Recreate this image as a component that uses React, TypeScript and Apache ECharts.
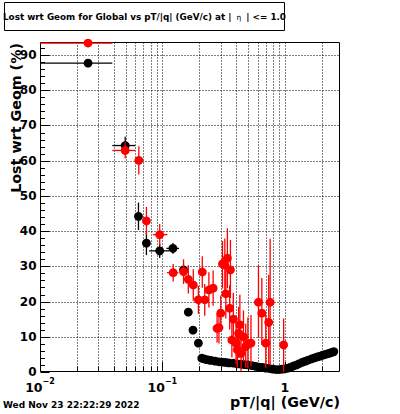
import React, { useEffect, useRef } from 'react';
import * as echarts from 'echarts';

const FONT = '"DejaVu Sans", sans-serif';

// rows: [pT, value, errLow, errHigh, binLow?, binHigh?]
const blackPoints: number[][] = [
  [0.0247, 87.7, 0.4, 0.4, 0.01, 0.039],
  [0.0497, 64.3, 2.5, 2.5, 0.039, 0.06],
  [0.0638, 44.2, 3.9, 3.9],
  [0.0741, 36.6, 3.4, 3.4],
  [0.0951, 34.4, 2.0, 2.0, 0.078, 0.114],
  [0.122, 35.1, 1.5, 1.5, 0.108, 0.137],
  [0.149, 29.0, 1.5, 1.5],
  [0.163, 17.0, 0.9, 0.9],
  [0.178, 11.9, 0.7, 0.7],
  [0.197, 8.2, 0.5, 0.5],
  [0.21, 3.9, 0.4, 0.4],
  [0.22, 3.7, 0.4, 0.4],
  [0.23, 3.5, 0.4, 0.4],
  [0.24, 3.4, 0.4, 0.4],
  [0.25, 3.3, 0.4, 0.4],
  [0.27, 3.1, 0.4, 0.4],
  [0.29, 2.9, 0.4, 0.4],
  [0.31, 2.8, 0.4, 0.4],
  [0.33, 2.7, 0.4, 0.4],
  [0.35, 2.6, 0.4, 0.4],
  [0.38, 2.5, 0.4, 0.4],
  [0.41, 2.3, 0.4, 0.4],
  [0.44, 2.2, 0.4, 0.4],
  [0.47, 2.1, 0.4, 0.4],
  [0.5, 2.0, 0.4, 0.4],
  [0.54, 1.8, 0.4, 0.4],
  [0.58, 1.6, 0.4, 0.4],
  [0.62, 1.4, 0.4, 0.4],
  [0.66, 1.3, 0.4, 0.4],
  [0.7, 1.1, 0.4, 0.4],
  [0.75, 1.0, 0.4, 0.4],
  [0.8, 0.8, 0.4, 0.4],
  [0.85, 0.7, 0.4, 0.4],
  [0.9, 0.7, 0.4, 0.4],
  [0.95, 0.8, 0.4, 0.4],
  [1.0, 0.9, 0.4, 0.4],
  [1.06, 1.1, 0.4, 0.4],
  [1.12, 1.4, 0.4, 0.4],
  [1.18, 1.7, 0.4, 0.4],
  [1.25, 2.0, 0.4, 0.4],
  [1.32, 2.4, 0.4, 0.4],
  [1.4, 2.8, 0.4, 0.4],
  [1.48, 3.1, 0.4, 0.4],
  [1.56, 3.4, 0.4, 0.4],
  [1.65, 3.7, 0.4, 0.4],
  [1.75, 4.0, 0.4, 0.4],
  [1.85, 4.3, 0.4, 0.4],
  [1.95, 4.5, 0.4, 0.4],
  [2.05, 4.8, 0.4, 0.4],
  [2.15, 5.0, 0.4, 0.4],
  [2.25, 5.2, 0.4, 0.4],
  [2.35, 5.4, 0.4, 0.4],
  [2.45, 5.6, 0.4, 0.4],
  [2.52, 5.8, 0.4, 0.4],
];

const redPoints: number[][] = [
  [0.0247, 93.4, 0.4, 0.4, 0.01, 0.039],
  [0.0497, 62.9, 2.3, 2.3, 0.039, 0.06],
  [0.0642, 60.1, 4.0, 4.0],
  [0.0741, 42.9, 4.0, 4.0],
  [0.0951, 39.0, 3.0, 3.0, 0.0836, 0.11],
  [0.1226, 28.2, 2.5, 2.5, 0.109, 0.135],
  [0.149, 28.5, 3.5, 3.5],
  [0.163, 26.3, 4.0, 4.0],
  [0.179, 24.7, 4.5, 4.5],
  [0.197, 20.5, 4.0, 4.0],
  [0.212, 28.4, 4.5, 4.5],
  [0.222, 20.5, 4.5, 4.5],
  [0.24, 23.3, 5.0, 5.0],
  [0.26, 23.8, 5.0, 5.0],
  [0.28, 12.4, 4.0, 4.0],
  [0.29, 12.6, 4.5, 4.5],
  [0.3, 16.7, 5.0, 5.0],
  [0.31, 30.7, 7.0, 6.5],
  [0.324, 30.4, 8.0, 7.5],
  [0.34, 32.3, 8.5, 8.5],
  [0.36, 29.0, 8.0, 8.5],
  [0.33, 22.2, 7.0, 7.0],
  [0.355, 18.1, 6.0, 6.5],
  [0.38, 15.0, 7.0, 7.5],
  [0.37, 9.1, 5.0, 5.5],
  [0.4, 8.2, 6.0, 6.5],
  [0.42, 11.0, 7.0, 7.5],
  [0.43, 13.4, 8.0, 8.5],
  [0.41, 6.3, 5.0, 5.5],
  [0.44, 5.3, 5.0, 6.0],
  [0.46, 10.0, 7.0, 7.5],
  [0.48, 7.2, 6.0, 6.5],
  [0.5, 8.0, 7.0, 7.5],
  [0.53, 8.2, 6.5, 8.0],
  [0.61, 19.8, 10.0, 10.5],
  [0.65, 16.7, 9.0, 10.0],
  [0.7, 8.2, 7.0, 8.0],
  [0.74, 14.1, 12.0, 13.5],
  [0.76, 19.8, 18.0, 18.0],
  [0.98, 7.7, 7.7, 7.5],
];

const X_MIN = 0.01;
const X_MAX = 2.83;
const Y_MIN = 0;
const Y_MAX = 93.7;

const xMajorTicks = [0.01, 0.1, 1];
const xMinorTicks = [
  0.02, 0.03, 0.04, 0.05, 0.06, 0.07, 0.08, 0.09,
  0.2, 0.3, 0.4, 0.5, 0.6, 0.7, 0.8, 0.9,
  2,
];
const yMajorTicks = [0, 10, 20, 30, 40, 50, 60, 70, 80, 90];
const yMinorTicks = [
  2, 4, 6, 8, 12, 14, 16, 18, 22, 24, 26, 28, 32, 34, 36, 38, 42, 44, 46, 48,
  52, 54, 56, 58, 62, 64, 66, 68, 72, 74, 76, 78, 82, 84, 86, 88, 92,
];

const TITLE = 'Lost wrt Geom for Global vs pT/|q| (GeV/c) at |';
const TITLE_END = '| <= 1.0';
const Y_TITLE = 'Lost wrt Geom (%)';
const X_TITLE = 'pT/|q| (GeV/c)';
const DATE_TEXT = 'Wed Nov 23 22:22:29 2022';

const fillRows = (rows: number[][]) =>
  rows.map((r) => (r.length >= 6 ? r : [r[0], r[1], r[2], r[3], r[0], r[0]]));

const snap = (v: number) => Math.round(v) + 0.5;

function renderAxes(params: any, api: any) {
  const cs = params.coordSys;
  const left = snap(cs.x);
  const top = snap(cs.y);
  const right = snap(cs.x + cs.width) - 1;
  const bottom = snap(cs.y + cs.height) - 1;
  const children: any[] = [];
  const dotted = { stroke: '#000', lineWidth: 1, lineDash: [1, 2], fill: 'none' };
  const solid = { stroke: '#000', lineWidth: 1, fill: 'none' };
  const allX = [...xMajorTicks, ...xMinorTicks];
  for (const v of allX) {
    const px = snap(api.coord([v, 1])[0]);
    if (px > left + 1 && px < right - 1) {
      children.push({ type: 'line', shape: { x1: px, y1: top, x2: px, y2: bottom }, style: dotted });
    }
    const len = xMajorTicks.indexOf(v) >= 0 ? 9.5 : 5;
    children.push({ type: 'line', shape: { x1: px, y1: bottom, x2: px, y2: bottom - len }, style: solid });
  }
  for (const v of yMajorTicks) {
    const py = snap(api.coord([1, v])[1]);
    if (py > top + 1 && py < bottom - 1) {
      children.push({ type: 'line', shape: { x1: left, y1: py, x2: right, y2: py }, style: dotted });
    }
    children.push({ type: 'line', shape: { x1: left, y1: py, x2: left + 9, y2: py }, style: solid });
  }
  for (const v of yMinorTicks) {
    const py = snap(api.coord([1, v])[1]);
    children.push({ type: 'line', shape: { x1: left, y1: py, x2: left + 4.5, y2: py }, style: solid });
  }
  children.push({
    type: 'rect',
    shape: { x: left, y: top, width: right - left, height: bottom - top },
    style: { stroke: '#000', lineWidth: 1, fill: 'none' },
  });
  return { type: 'group', children };
}

function makePointRenderer(color: string) {
  return (params: any, api: any) => {
    const x = api.value(0);
    const y = api.value(1);
    const eLo = api.value(2);
    const eHi = api.value(3);
    const xLo = api.value(4);
    const xHi = api.value(5);
    const c = api.coord([x, y]);
    const yTop = Math.min(y + eHi, Y_MAX);
    const yBot = Math.max(y - eLo, Y_MIN);
    const pTop = api.coord([x, yTop]);
    const pBot = api.coord([x, yBot]);
    const pL = api.coord([Math.max(xLo, X_MIN), y]);
    const pR = api.coord([xHi, y]);
    const lineStyle = { stroke: color, lineWidth: 1.3, fill: 'none' };
    const children: any[] = [
      { type: 'line', shape: { x1: c[0], y1: pTop[1], x2: c[0], y2: pBot[1] }, style: lineStyle },
    ];
    if (xHi > xLo) {
      children.push({ type: 'line', shape: { x1: pL[0], y1: c[1], x2: pR[0], y2: c[1] }, style: lineStyle });
    }
    children.push({ type: 'circle', shape: { cx: c[0], cy: c[1], r: 4.4 }, style: { fill: color, stroke: 'none' } });
    return { type: 'group', children };
  };
}

export default function App() {
  const ref = useRef<HTMLDivElement>(null);
  useEffect(() => {
    if (!ref.current) return;
    const chart = echarts.init(ref.current, null, { renderer: 'svg' });
    const option: any = {
      animation: false,
      backgroundColor: '#fff',
      grid: { left: 40, top: 42, width: 300, height: 330, show: false },
      xAxis: {
        type: 'log',
        logBase: 10,
        min: X_MIN,
        max: X_MAX,
        axisLine: { show: false },
        axisTick: { show: false },
        splitLine: { show: false },
        minorTick: { show: false },
        axisLabel: {
          show: true,
          margin: 5,
          showMinLabel: true,
          showMaxLabel: false,
          color: '#000',
          formatter: (v: number) => {
            const l = Math.log10(v);
            const e = Math.round(l);
            if (Math.abs(l - e) > 1e-6) return '';
            if (e === 0) return '{b|1}';
            return '{b|10}{s|\u2212' + Math.abs(e) + '}';
          },
          rich: {
            b: { fontSize: 12.5, fontWeight: 'bold', fontFamily: FONT, color: '#000', lineHeight: 20 },
            s: { fontSize: 8, fontWeight: 'bold', fontFamily: FONT, color: '#000', lineHeight: 8, verticalAlign: 'top' },
          },
        },
      },
      yAxis: {
        type: 'value',
        min: Y_MIN,
        max: Y_MAX,
        interval: 10,
        axisLine: { show: false },
        axisTick: { show: false },
        splitLine: { show: false },
        axisLabel: {
          margin: 3.5,
          showMaxLabel: false,
          color: '#000',
          fontSize: 12,
          fontWeight: 'bold',
          fontFamily: FONT,
        },
      },
      graphic: [
        {
          type: 'rect',
          shape: { x: 4.5, y: 2.5, width: 280, height: 28 },
          style: { fill: '#fff', stroke: '#000', lineWidth: 1 },
          z: 10,
        },
        {
          type: 'text',
          x: 144.5,
          y: 16.5,
          z: 11,
          style: {
            text: '{b|' + TITLE + ' }{e|\u03b7}{b| ' + TITLE_END + '}',
            rich: {
              b: { fontSize: 8.8, fontWeight: 'bold', fontFamily: FONT, fill: '#000' },
              e: { fontSize: 7.5, fontFamily: FONT, fill: '#000', verticalAlign: 'bottom', padding: [0, 2, 0, 2] },
            },
            align: 'center',
            verticalAlign: 'middle',
            textAlign: 'center',
            textVerticalAlign: 'middle',
          },
        },
        {
          type: 'text',
          x: 16,
          y: 43,
          rotation: Math.PI / 2,
          style: {
            text: Y_TITLE,
            fontSize: 14.3,
            fontWeight: 'bold',
            fontFamily: FONT,
            fill: '#000',
            align: 'right',
            verticalAlign: 'middle',
            textAlign: 'right',
            textVerticalAlign: 'middle',
          },
        },
        {
          type: 'text',
          x: 340,
          y: 401.5,
          style: {
            text: X_TITLE,
            fontSize: 14.3,
            lineHeight: 11,
            fontWeight: 'bold',
            fontFamily: FONT,
            fill: '#000',
            align: 'right',
            verticalAlign: 'middle',
            textAlign: 'right',
            textVerticalAlign: 'middle',
          },
        },
        {
          type: 'text',
          x: 3,
          y: 405,
          style: {
            text: DATE_TEXT,
            fontSize: 9,
            fontWeight: 'bold',
            fontFamily: FONT,
            fill: '#000',
            align: 'left',
            verticalAlign: 'middle',
            textAlign: 'left',
            textVerticalAlign: 'middle',
          },
        },
      ],
      series: [
        {
          type: 'custom',
          name: 'axes',
          z: 1,
          silent: true,
          clip: false,
          encode: { x: 0, y: 1 },
          data: [[0.1, 10]],
          renderItem: renderAxes,
        },
        {
          type: 'custom',
          name: 'black',
          z: 2,
          silent: true,
          clip: false,
          encode: { x: 0, y: 1 },
          data: fillRows(blackPoints),
          renderItem: makePointRenderer('#000000'),
        },
        {
          type: 'custom',
          name: 'red',
          z: 3,
          silent: true,
          clip: false,
          encode: { x: 0, y: 1 },
          data: fillRows(redPoints),
          renderItem: makePointRenderer('#ff0000'),
        },
      ],
    };
    chart.setOption(option);
    return () => chart.dispose();
  }, []);
  return (
    <div
      ref={ref}
      style={{ position: 'fixed', left: 0, top: 0, width: 400, height: 414, background: '#fff' }}
    />
  );
}
